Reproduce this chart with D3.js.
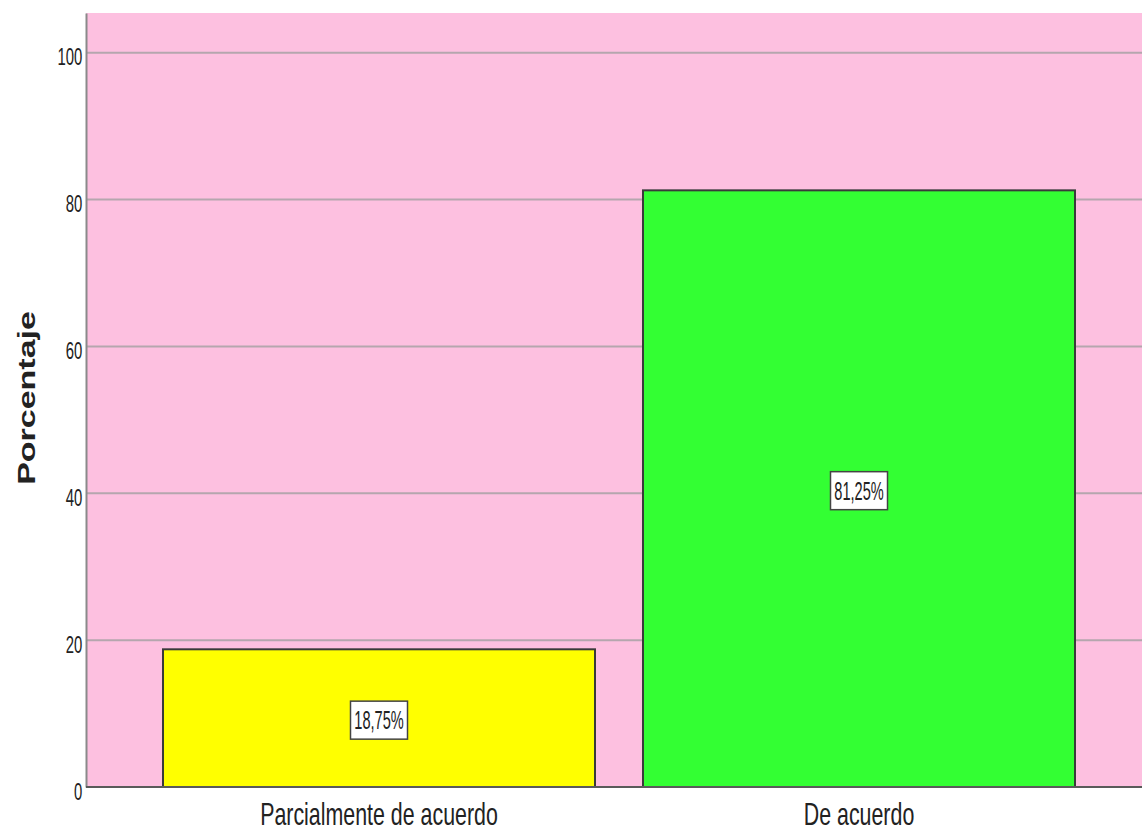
<!DOCTYPE html>
<meta charset="utf-8">
<head>
<style>
body{ margin:0; background:#fff; }
text{ font-family:"Liberation Sans",Arial,sans-serif; fill:#222; }
.tick text{ font-size:24px; }
.cat{ font-size:31px; text-anchor:middle; }
.ylab{ font-weight:bold; font-size:34px; text-anchor:middle; }
.grid{ stroke:#b5a6ae; stroke-width:2; }
.bar{ stroke:#3a3a3a; stroke-width:2; }
.lbl rect{ fill:#fff; stroke:#444; stroke-width:1.5; }
.lbl text{ font-size:26px; text-anchor:middle; }
</style>
</head>
<body>
<script src="https://d3js.org/d3.v7.min.js"></script>
<script>

var categories = ["Parcialmente de acuerdo", "De acuerdo"];
var values = [18.75, 81.25];
var colors = ["#ffff00", "#33ff33"];
var ticks = [0, 20, 40, 60, 80, 100];

var W = 1142, H = 835;
var mLeft = 86, mTop = 13, mBottom = 787;

var svg = d3.select("body").append("svg").attr("width", W).attr("height", H);

var y = d3.scaleLinear().domain([0, 105.4]).range([mBottom, mTop]);
var x = d3.scaleBand().domain(categories).range([139, 1099])
	.paddingInner(0.1).paddingOuter(0.05);

// plot background
svg.append("rect").attr("x", mLeft).attr("y", mTop)
	.attr("width", W - mLeft + 10).attr("height", mBottom - mTop)
	.attr("fill", "#fdc0e0");

// gridlines
svg.selectAll(".grid").data(ticks.filter(d => d > 0)).enter().append("line")
	.attr("class", "grid")
	.attr("x1", mLeft).attr("x2", W)
	.attr("y1", d => y(d)).attr("y2", d => y(d));

// bars
svg.selectAll(".bar").data(values).enter().append("rect")
	.attr("class", "bar")
	.attr("x", (d, i) => x(categories[i]))
	.attr("y", d => y(d))
	.attr("width", x.bandwidth())
	.attr("height", d => y(0) - y(d))
	.attr("fill", (d, i) => colors[i]);

// y axis
var yAxis = svg.append("g").attr("transform", "translate(" + mLeft + ",0)")
	.call(d3.axisLeft(y).tickValues(ticks).tickSize(0).tickPadding(0));
yAxis.select(".domain").attr("stroke", "#8a8a8a").attr("stroke-width", 2);
yAxis.selectAll(".tick text")
	.attr("x", -6).attr("dy", "0.5em")
	.attr("transform", "scale(0.62,1)")
	.attr("fill", "#222");

// bottom axis line
svg.append("line").attr("x1", mLeft).attr("x2", W)
	.attr("y1", mBottom).attr("y2", mBottom)
	.attr("stroke", "#5a5a5a").attr("stroke-width", 2);

// category labels
svg.selectAll(".cat").data(categories).enter().append("text")
	.attr("class", "cat")
	.attr("transform", d => "translate(" + (x(d) + x.bandwidth() / 2) + ",825) scale(0.69,1)")
	.text(d => d);

// y label
svg.append("text").attr("class", "ylab")
	.attr("transform", "translate(35,398) scale(0.7,1) rotate(-90)")
	.text("Porcentaje");

// value labels
var fmt = d => d3.format(".2f")(d).replace(".", ",") + "%";
var lbl = svg.selectAll(".lbl").data(values).enter().append("g")
	.attr("class", "lbl")
	.attr("transform", (d, i) => "translate(" + (x(categories[i]) + x.bandwidth() / 2) + "," + ((y(d) + y(0)) / 2 + 2) + ")");
lbl.append("rect").attr("x", -28.5).attr("y", -19).attr("width", 57).attr("height", 38);
lbl.append("text").attr("y", 9).attr("transform", "scale(0.56,1)").text(fmt);

</script>
</body>
</html>
